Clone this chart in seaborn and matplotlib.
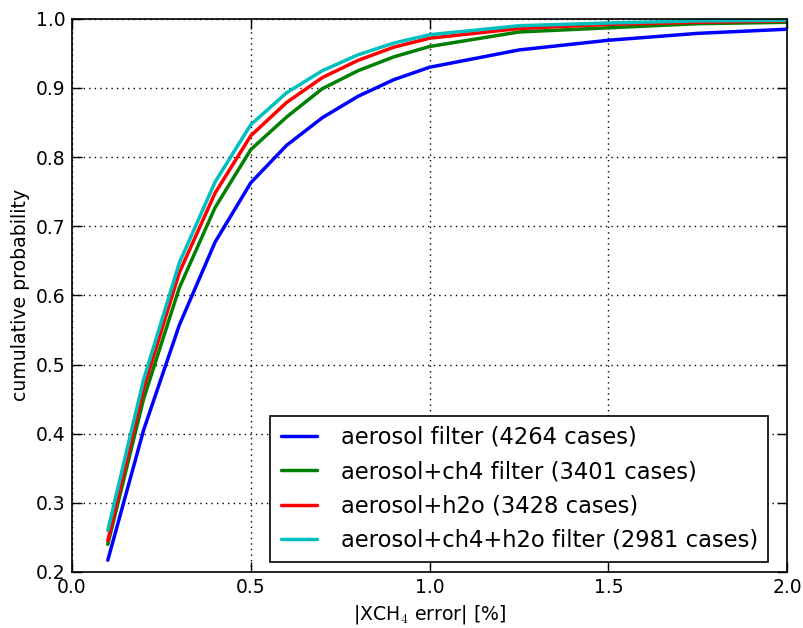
import numpy as np
import pandas as pd
import matplotlib
matplotlib.use("Agg")
import matplotlib.pyplot as plt
import seaborn as sns

# error thresholds [%]
err = [0.1, 0.2, 0.3, 0.4, 0.5, 0.6, 0.7, 0.8, 0.9, 1.0, 1.25, 1.5, 1.75, 2.0]

# cumulative probability per filter
aerosol = [0.217, 0.405, 0.557, 0.677, 0.763, 0.817, 0.857, 0.888, 0.912, 0.930, 0.955, 0.969, 0.979, 0.985]
aer_ch4 = [0.240, 0.450, 0.611, 0.727, 0.811, 0.858, 0.899, 0.925, 0.945, 0.960, 0.981, 0.987, 0.993, 0.995]
aer_h2o = [0.245, 0.465, 0.633, 0.748, 0.831, 0.879, 0.915, 0.940, 0.959, 0.972, 0.986, 0.992, 0.995, 0.997]
aer_ch4_h2o = [0.260, 0.478, 0.647, 0.764, 0.847, 0.893, 0.925, 0.948, 0.965, 0.977, 0.990, 0.994, 0.997, 0.998]

labels = ["aerosol filter (4264 cases)",
          "aerosol+ch4 filter (3401 cases)",
          "aerosol+h2o (3428 cases)",
          "aerosol+ch4+h2o filter (2981 cases)"]
colors = ["#0000ff", "#008000", "#ff0000", "#00bfbf"]

# long form table for seaborn
frames = []
for lab, vals in zip(labels, [aerosol, aer_ch4, aer_h2o, aer_ch4_h2o]):
    frames.append(pd.DataFrame({"err": err, "prob": vals, "filter": lab}))
df = pd.concat(frames, ignore_index=True)

sns.set_style("ticks")
plt.rcParams['font.family'] = ['DejaVu Sans']
plt.rcParams['mathtext.fontset'] = 'cm'
plt.rcParams['text.color'] = 'black'
plt.rcParams['axes.labelcolor'] = 'black'

fig, ax = plt.subplots(figsize=(8.04, 6.28), dpi=100)
fig.subplots_adjust(left=0.0896, right=0.979, top=0.970, bottom=0.0892)

sns.lineplot(data=df, x="err", y="prob", hue="filter", palette=colors,
             linewidth=2.5, ax=ax, sort=False)

ax.set_xlim(0, 2)
ax.set_ylim(0.2, 1.0)
ax.set_xticks(np.arange(0, 2.01, 0.5))
ax.set_yticks(np.arange(0.2, 1.01, 0.1))
ax.set_xticklabels(["0.0", "0.5", "1.0", "1.5", "2.0"])
ax.set_yticklabels(["%.1f" % v for v in np.arange(0.2, 1.01, 0.1)])
ax.tick_params(direction="in", length=7, width=1, top=True, right=True,
               labelsize=13.5, colors="black", pad=4.5)
ax.grid(True, linestyle=(0, (1, 3)), color="black", linewidth=1)
for s in ax.spines.values():
    s.set_color("black")
    s.set_linewidth(1.2)

ax.set_xlabel(r"|XCH$_4$ error| [%]", fontsize=13.6)
ax.set_ylabel("cumulative probability", fontsize=13.6)

leg = ax.legend(loc="lower right", bbox_to_anchor=(0.9734, 0.018),
                borderaxespad=0, fontsize=16.3, fancybox=False, framealpha=1,
                edgecolor="black", handlelength=1.6, handletextpad=1.05,
                borderpad=0.45, labelspacing=0.5)
leg.get_frame().set_linewidth(1.2)
for t in leg.get_texts():
    t.set_color("black")

fig.savefig("out.png", dpi=100)
